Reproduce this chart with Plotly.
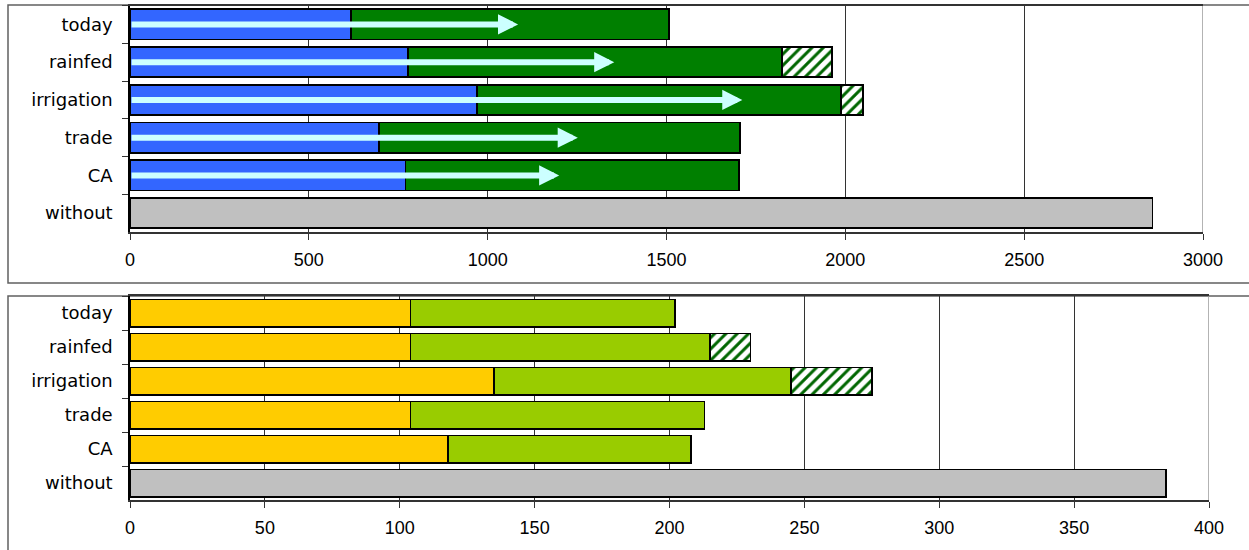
import plotly.graph_objects as go

W, H = 1249, 550

categories = ["today", "rainfed", "irrigation", "trade", "CA", "without"]

# Upper panel
upper_blue = [618, 778, 971, 696, 770, None]
upper_green = [888, 1045, 1017, 1009, 932, None]
upper_hatch = [None, 140, 61, None, None, None]
upper_without = [None, None, None, None, None, 2859]
upper_arrow_end = [1085, 1354, 1712, 1252, 1200]
upper_ticks = [0, 500, 1000, 1500, 2000, 2500, 3000]

# Lower panel
lower_yellow = [104, 104, 135, 104, 118, None]
lower_green = [98, 111, 110, 109, 90, None]
lower_hatch = [None, 15, 30, None, None, None]
lower_without = [None, None, None, None, None, 384]
lower_ticks = [0, 50, 100, 150, 200, 250, 300, 350, 400]


def px_x(p):
    return p / W


def px_y(p):
    return 1 - p / H


OUTLINE = dict(color="black", width=1.8)
fig = go.Figure()


def add_bar(values, color, xa, ya, pattern=None):
    marker = dict(color=color, line=OUTLINE)
    if pattern:
        marker["pattern"] = pattern
    fig.add_trace(go.Bar(
        y=categories, x=values, orientation="h", marker=marker,
        xaxis=xa, yaxis=ya, showlegend=False, hoverinfo="skip",
    ))


hatch = dict(shape="/", fgcolor="#006600", bgcolor="white", size=8, solidity=0.38)

add_bar(upper_blue, "#3366FF", "x", "y")
add_bar(upper_green, "#007F00", "x", "y")
add_bar(upper_hatch, "#007F00", "x", "y", hatch)
add_bar(upper_without, "#C0C0C0", "x", "y")

add_bar(lower_yellow, "#FFCC00", "x2", "y2")
add_bar(lower_green, "#99CC00", "x2", "y2")
add_bar(lower_hatch, "#99CC00", "x2", "y2", hatch)
add_bar(lower_without, "#C0C0C0", "x2", "y2")

num_font = dict(family="Liberation Sans, Arial", size=18, color="black")
cat_font = dict(family="DejaVu Sans", size=18, color="black")


def xaxis(domain, rng, ticks, anchor):
    return dict(
        domain=domain, range=rng, tickvals=ticks, tickformat="d",
        showgrid=True, gridcolor="#333333", gridwidth=1.2,
        ticks="outside", ticklen=6, tickcolor="#333", tickwidth=1,
        showline=True, mirror=True, linecolor="#333", linewidth=1.5,
        zeroline=False, tickfont=num_font, anchor=anchor, fixedrange=True,
        automargin=False, ticklabelstandoff=5,
    )


def yaxis(domain, anchor):
    return dict(
        domain=domain, anchor=anchor, type="category",
        categoryorder="array", categoryarray=categories, autorange="reversed",
        ticks="outside", tickson="boundaries", ticklen=6, tickcolor="#333",
        showline=True, linecolor="black", linewidth=1.5, showgrid=False,
        tickfont=cat_font, fixedrange=True, automargin=False,
        ticklabelstandoff=12,
    )


arrows = []
for i, end in enumerate(upper_arrow_end):
    arrows.append(dict(
        x=end, y=i, ax=0, ay=i, xref="x", yref="y", axref="x", ayref="y",
        text="", showarrow=True, arrowhead=2, arrowsize=0.67, arrowwidth=6,
        arrowcolor="#CCFFFF",
    ))

frame = dict(color="#606060", width=1.5)
shapes = [
    # chart frames
    dict(type="rect", xref="paper", yref="paper", x0=px_x(8), x1=px_x(1262),
         y0=px_y(283), y1=px_y(5), line=frame, layer="below"),
    dict(type="rect", xref="paper", yref="paper", x0=px_x(8), x1=px_x(1262),
         y0=px_y(552), y1=px_y(296), line=frame, layer="below"),
    # lighter right edge of each plot area
    dict(type="line", xref="x", yref="y domain", x0=upper_ticks[-1], x1=upper_ticks[-1],
         y0=0, y1=1, line=dict(color="#9a9a9a", width=1.5), layer="below"),
    dict(type="line", xref="x2", yref="y2 domain", x0=lower_ticks[-1], x1=lower_ticks[-1],
         y0=0, y1=1, line=dict(color="#9a9a9a", width=1.5), layer="below"),
]

fig.update_layout(
    template="none",
    width=W, height=H, margin=dict(l=0, r=0, t=0, b=0, pad=0),
    paper_bgcolor="white", plot_bgcolor="white",
    barmode="stack", bargap=0.2,
    xaxis=xaxis([px_x(130), px_x(1203)], [0, 3000], upper_ticks, "y"),
    yaxis=yaxis([px_y(232), px_y(5.5)], "x"),
    xaxis2=xaxis([px_x(130), px_x(1209)], [0, 400], lower_ticks, "y2"),
    yaxis2=yaxis([px_y(500), px_y(296)], "x2"),
    annotations=arrows, shapes=shapes,
)

fig.write_html("out.html")
